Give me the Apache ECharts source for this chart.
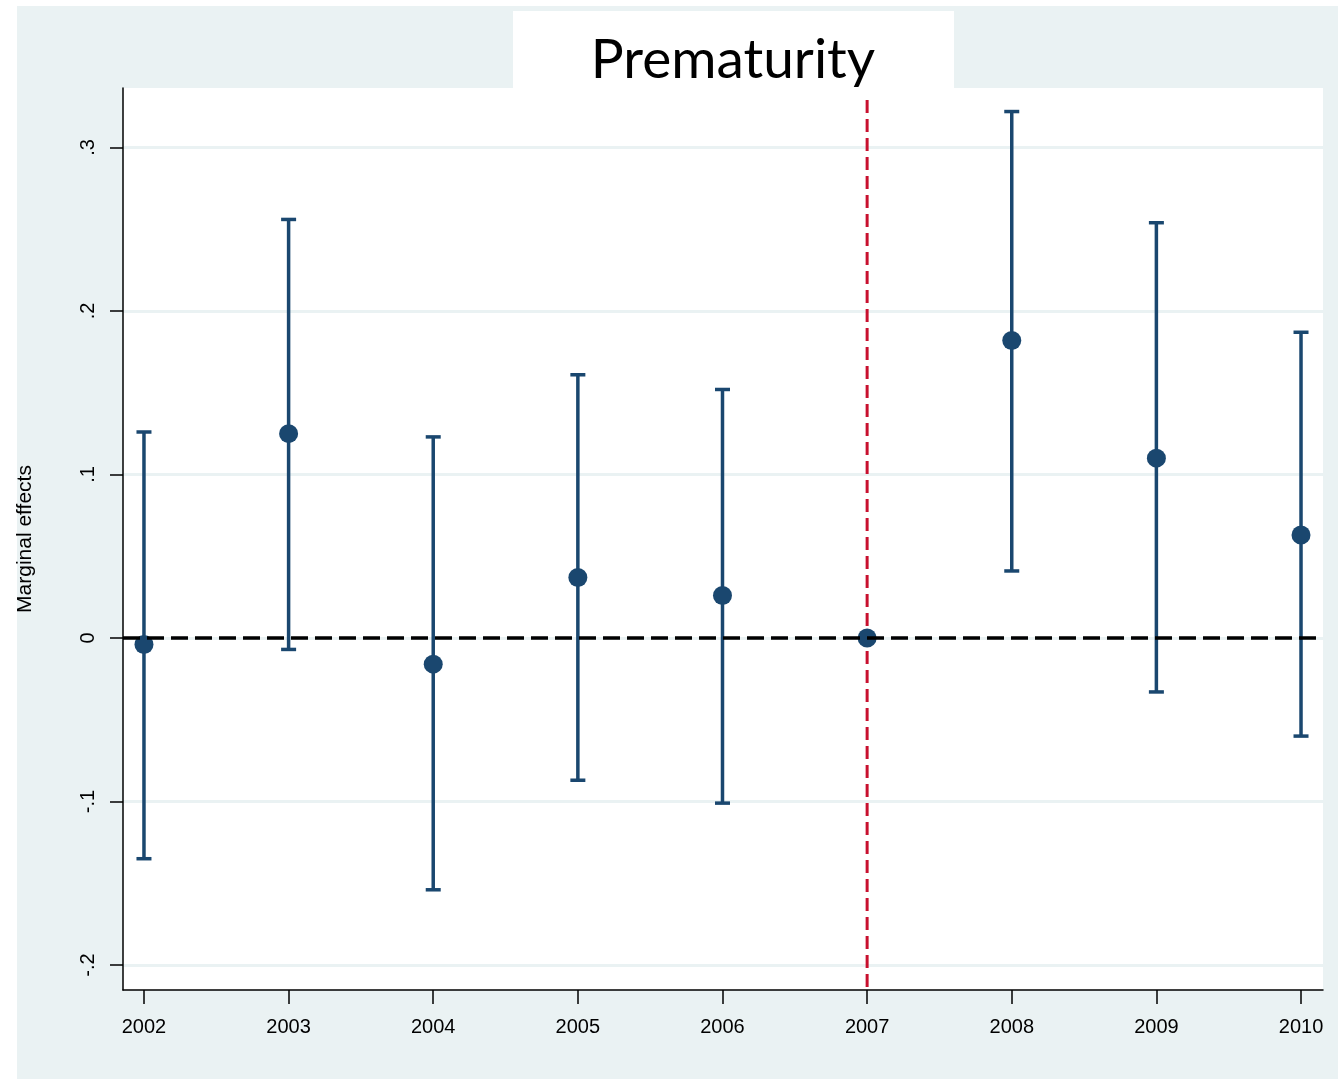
<!DOCTYPE html>
<html>
<head>
<meta charset="utf-8">
<script src="https://cdn.jsdelivr.net/npm/echarts@6/dist/echarts.min.js"></script>
<style>
html,body{margin:0;padding:0;background:#fff;}
#main{width:1338px;height:1079px;}
</style>
</head>
<body>
<div id="main"></div>
<script>
// ---- data ----
var years = [2002, 2003, 2004, 2005, 2006, 2007, 2008, 2009, 2010];
var estimate = [-0.004, 0.125, -0.016, 0.037, 0.026, 0.000, 0.182, 0.110, 0.063];
var ciLower = [-0.135, -0.007, -0.154, -0.087, -0.101, null, 0.041, -0.033, -0.060];
var ciUpper = [0.126, 0.256, 0.123, 0.161, 0.152, null, 0.322, 0.254, 0.187];
var yTicks = [-0.2, -0.1, 0, 0.1, 0.2, 0.3];
var yTickLabels = ['-.2', '-.1', '0', '.1', '.2', '.3'];
var xTicks = [2002, 2003, 2004, 2005, 2006, 2007, 2008, 2009, 2010];
var refYear = 2007;
var refLineTop = 0.329;
var titleText = 'Prematurity';
var yName = 'Marginal effects';

var yMin = -0.2153, yMax = 0.3364;
var xMin = 2001.855, xMax = 2010.152;

var navy = '#1a476f';
var bg = '#eaf2f3';

var chart = echarts.init(document.getElementById('main'), null, {renderer: 'canvas'});

var ciData = [];
var ptData = [];
for (var i = 0; i < years.length; i++) {
  ptData.push([years[i], estimate[i]]);
  if (ciLower[i] !== null) ciData.push([years[i], ciLower[i], ciUpper[i]]);
}

var option = {
  backgroundColor: bg,
  animation: false,
  graphic: [
    {type: 'rect', z: -100, shape: {x: 0, y: 0, width: 17, height: 1079}, style: {fill: '#fff'}, silent: true},
    {type: 'rect', z: -100, shape: {x: 0, y: 0, width: 1338, height: 6}, style: {fill: '#fff'}, silent: true},
    {type: 'rect', z: -100, shape: {x: 513, y: 11, width: 441, height: 80}, style: {fill: '#fff'}, silent: true},
    {type: 'text', z: 100, x: 733, y: 60, style: {text: titleText, fill: '#000', font: '55px Lato', textAlign: 'center', textVerticalAlign: 'middle'}}
  ],
  grid: {left: 123, right: 15, top: 88, bottom: 89, show: true, backgroundColor: '#fff', borderWidth: 0},
  xAxis: {
    type: 'value', min: xMin, max: xMax,
    axisLine: {show: true, onZero: false, lineStyle: {color: '#000', width: 1.5}},
    axisTick: {show: true, length: 14, customValues: xTicks, lineStyle: {color: '#000', width: 1.5}},
    axisLabel: {customValues: xTicks, margin: 27, color: '#000', fontSize: 20, fontFamily: 'Liberation Sans', formatter: function (v) { return String(Math.round(v)); }},
    splitLine: {show: false}
  },
  yAxis: {
    type: 'value', min: yMin, max: yMax,
    name: yName, nameLocation: 'middle', nameRotate: 90, nameGap: 87,
    nameTextStyle: {color: '#000', fontSize: 21, fontFamily: 'Liberation Sans'},
    axisLine: {show: true, onZero: false, lineStyle: {color: '#000', width: 1.5}},
    axisTick: {show: true, length: 13, customValues: yTicks, lineStyle: {color: '#000', width: 1.5}},
    axisLabel: {customValues: yTicks, rotate: 90, margin: 25, color: '#000', fontSize: 20, fontFamily: 'Liberation Sans',
      formatter: function (v) {
        for (var k = 0; k < yTicks.length; k++) if (Math.abs(v - yTicks[k]) < 1e-9) return yTickLabels[k];
        return '';
      }},
    splitLine: {show: true, lineStyle: {color: bg, width: 3}}
  },
  series: [
    {
      type: 'line', z: 2, symbol: 'none',
      data: [[refYear, refLineTop], [refYear, yMin]],
      lineStyle: {color: '#c8102e', width: 3, type: [13, 6]},
      silent: true
    },
    {
      type: 'scatter', z: 1, symbolSize: 0, data: [],
      markLine: {
        silent: true, symbol: 'none', label: {show: false},
        lineStyle: {color: '#000', width: 3.5, type: [17, 7]},
        data: [{yAxis: 0}]
      }
    },
    {
      type: 'custom', z: 3,
      data: ciData,
      renderItem: function (params, api) {
        var x = api.value(0);
        var lo = api.coord([x, api.value(1)]);
        var hi = api.coord([x, api.value(2)]);
        var cap = 7.5;
        var style = {stroke: navy, lineWidth: 3.5};
        return {
          type: 'group',
          children: [
            {type: 'line', shape: {x1: lo[0], y1: lo[1], x2: hi[0], y2: hi[1]}, style: style},
            {type: 'line', shape: {x1: lo[0] - cap, y1: lo[1], x2: lo[0] + cap, y2: lo[1]}, style: style},
            {type: 'line', shape: {x1: hi[0] - cap, y1: hi[1], x2: hi[0] + cap, y2: hi[1]}, style: style}
          ]
        };
      }
    },
    {
      type: 'scatter', z: 4, symbol: 'circle', symbolSize: 19,
      itemStyle: {color: navy, opacity: 1},
      data: ptData
    }
  ]
};
chart.setOption(option);
</script>
</body>
</html>
